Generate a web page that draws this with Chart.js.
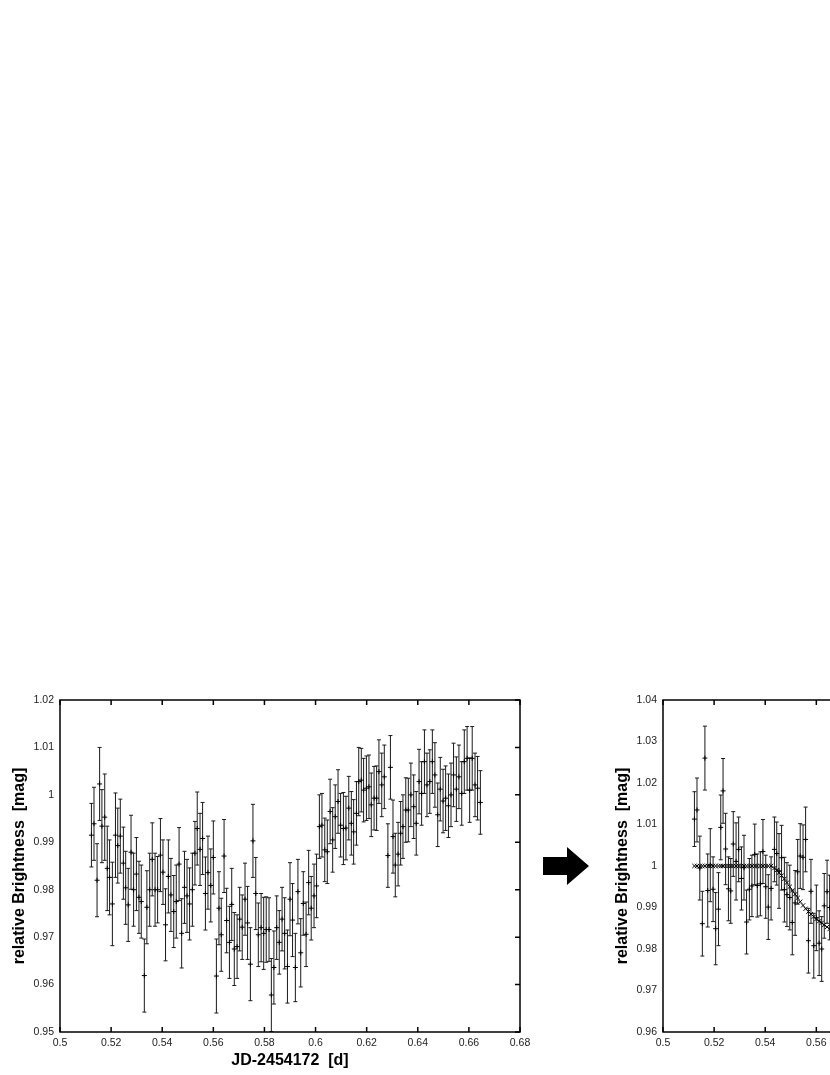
<!DOCTYPE html>
<html>
<head>
<meta charset="utf-8">
<script src="https://cdn.jsdelivr.net/npm/chart.js@4.4.1/dist/chart.umd.min.js"></script>
<style>
html, body { margin: 0; padding: 0; background: #fff; }
body { width: 830px; height: 1075px; overflow: hidden; position: relative; }
#left { position: absolute; left: 0; top: 690px; }
#right { position: absolute; left: 603px; top: 690px; }
#arrow { position: absolute; left: 540px; top: 844px; }
</style>
</head>
<body>
<canvas id="left" width="530" height="385"></canvas>
<canvas id="right" width="530" height="385"></canvas>
<svg id="arrow" width="52" height="44"><polygon points="3,13 27,13 27,3 49,22 27,41 27,31 3,31" fill="#000"/></svg>
<script>
// ticks
const xTicks = [0.5, 0.52, 0.54, 0.56, 0.58, 0.6, 0.62, 0.64, 0.66, 0.68];
const xTickLabels = ['0.5', '0.52', '0.54', '0.56', '0.58', '0.6', '0.62', '0.64', '0.66', '0.68'];
const yTicksLeft = [0.95, 0.96, 0.97, 0.98, 0.99, 1.0, 1.01, 1.02];
const yTickLabelsLeft = ['0.95', '0.96', '0.97', '0.98', '0.99', '1', '1.01', '1.02'];
const yTicksRight = [0.96, 0.97, 0.98, 0.99, 1.0, 1.01, 1.02, 1.03, 1.04];
const yTickLabelsRight = ['0.96', '0.97', '0.98', '0.99', '1', '1.01', '1.02', '1.03', '1.04'];

// left panel: raw light curve
const jdLeft = [
  0.5123, 0.5133, 0.5145, 0.5155, 0.5164, 0.5175, 0.5185, 0.5194, 0.5205, 0.5217,
  0.5226, 0.5236, 0.5248, 0.5257, 0.5267, 0.5278, 0.5288, 0.5299, 0.5309, 0.5318,
  0.5330, 0.5340, 0.5351, 0.5361, 0.5372, 0.5382, 0.5393, 0.5403, 0.5413, 0.5424,
  0.5434, 0.5445, 0.5455, 0.5466, 0.5476, 0.5487, 0.5497, 0.5507, 0.5518, 0.5528,
  0.5537, 0.5548, 0.5558, 0.5569, 0.5579, 0.5590, 0.5600, 0.5612, 0.5622,
  0.5631, 0.5642, 0.5652, 0.5663, 0.5672, 0.5682, 0.5693, 0.5703, 0.5713, 0.5724,
  0.5734, 0.5745, 0.5755, 0.5766, 0.5776, 0.5787, 0.5797, 0.5807, 0.5818, 0.5827,
  0.5837, 0.5848, 0.5858, 0.5869, 0.5879, 0.5890, 0.5900, 0.5910, 0.5921, 0.5931,
  0.5942, 0.5952, 0.5963, 0.5973, 0.5983, 0.5994, 0.6004, 0.6015, 0.6025, 0.6036,
  0.6046, 0.6057, 0.6067, 0.6077, 0.6088, 0.6098, 0.6109, 0.6119, 0.6130,
  0.6140, 0.6149, 0.6160, 0.6169, 0.6179, 0.6188, 0.6199, 0.6209, 0.6218, 0.6229,
  0.6239, 0.6248, 0.6259, 0.6269, 0.6283, 0.6293, 0.6303, 0.6312, 0.6323, 0.6333,
  0.6342, 0.6353, 0.6363, 0.6373, 0.6384, 0.6394, 0.6405, 0.6415, 0.6426, 0.6436,
  0.6447, 0.6457, 0.6467, 0.6478, 0.6488, 0.6499, 0.6509, 0.6520, 0.6530, 0.6540,
  0.6551, 0.6561, 0.6572, 0.6582, 0.6593, 0.6603, 0.6613, 0.6624, 0.6634, 0.6645
];
const magLeft = [
  0.9915, 0.9939, 0.9820, 1.0023, 0.9934, 0.9953, 0.9845, 0.9826, 0.9770, 0.9915,
  0.9893, 0.9913, 0.9856, 0.9804, 0.9768, 0.9879, 0.9800, 0.9833, 0.9784, 0.9775,
  0.9619, 0.9763, 0.9800, 0.9864, 0.9800, 0.9800, 0.9873, 0.9837, 0.9726, 0.9828,
  0.9789, 0.9754, 0.9775, 0.9854, 0.9708, 0.9805, 0.9787, 0.9770, 0.9800, 0.9877,
  0.9929, 0.9885, 0.9908, 0.9792, 0.9836, 0.9809, 0.9868, 0.9618, 0.9761,
  0.9705, 0.9871, 0.9735, 0.9689, 0.9769, 0.9675, 0.9680, 0.9738, 0.9721, 0.9780,
  0.9730, 0.9643, 0.9903, 0.9792, 0.9705, 0.9720, 0.9708, 0.9716, 0.9716, 0.9578,
  0.9636, 0.9720, 0.9689, 0.9738, 0.9708, 0.9638, 0.9780, 0.9736, 0.9636, 0.9796,
  0.9667, 0.9771, 0.9706, 0.9815, 0.9761, 0.9787, 0.9808, 0.9933, 0.9936, 0.9884,
  0.9880, 0.9965, 0.9905, 0.9954, 0.9986, 0.9936, 0.9929, 0.9930, 0.9972,
  0.9940, 0.9922, 0.9961, 1.0028, 1.0031, 1.0010, 1.0014, 1.0017, 0.9979, 0.9993,
  0.9993, 1.0049, 1.0021, 1.0038, 0.9872, 1.0058, 0.9912, 0.9852, 0.9875, 0.9919,
  0.9933, 0.9968, 0.9968, 1.0000, 0.9975, 0.9940, 1.0028, 1.0003, 1.0070, 1.0021,
  1.0028, 1.0070, 1.0042, 0.9958, 1.0012, 0.9987, 0.9993, 0.9977, 1.0000, 1.0042,
  1.0012, 1.0038, 1.0003, 1.0070, 1.0077, 1.0010, 1.0077, 1.0021, 1.0014, 0.9984
];
const errLeft = [
  0.0067, 0.0077, 0.0077, 0.0077, 0.0077, 0.0091, 0.0089, 0.0079, 0.0088, 0.0089,
  0.0079, 0.0078, 0.0076, 0.0077, 0.0077, 0.0078, 0.0077, 0.0077, 0.0076, 0.0077,
  0.0077, 0.0077, 0.0077, 0.0077, 0.0077, 0.0070, 0.0077, 0.0068, 0.0076, 0.0077,
  0.0077, 0.0076, 0.0077, 0.0077, 0.0073, 0.0076, 0.0077, 0.0076, 0.0077, 0.0067,
  0.0077, 0.0076, 0.0076, 0.0077, 0.0077, 0.0077, 0.0077, 0.0078, 0.0077,
  0.0077, 0.0077, 0.0068, 0.0076, 0.0076, 0.0077, 0.0067, 0.0067, 0.0068, 0.0076,
  0.0077, 0.0077, 0.0077, 0.0076, 0.0067, 0.0072, 0.0076, 0.0069, 0.0067, 0.0077,
  0.0077, 0.0067, 0.0067, 0.0067, 0.0075, 0.0077, 0.0077, 0.0077, 0.0072, 0.0068,
  0.0072, 0.0067, 0.0068, 0.0068, 0.0067, 0.0067, 0.0067, 0.0067, 0.0067, 0.0067,
  0.0067, 0.0068, 0.0068, 0.0067, 0.0067, 0.0067, 0.0076, 0.0067, 0.0067,
  0.0067, 0.0068, 0.0067, 0.0072, 0.0067, 0.0067, 0.0068, 0.0067, 0.0067, 0.0067,
  0.0068, 0.0067, 0.0067, 0.0067, 0.0067, 0.0067, 0.0077, 0.0067, 0.0067, 0.0067,
  0.0067, 0.0068, 0.0067, 0.0067, 0.0067, 0.0067, 0.0068, 0.0067, 0.0067, 0.0067,
  0.0067, 0.0067, 0.0068, 0.0067, 0.0067, 0.0067, 0.0068, 0.0067, 0.0067, 0.0067,
  0.0068, 0.0067, 0.0067, 0.0067, 0.0067, 0.0068, 0.0067, 0.0067, 0.0067, 0.0067
];

// right panel: detrended curve with transit model (cut at page edge)
const jdRight = [
  0.5123, 0.5133, 0.5144, 0.5154, 0.5164, 0.5175, 0.5185, 0.5196, 0.5206, 0.5217,
  0.5226, 0.5235, 0.5245, 0.5256, 0.5265, 0.5275, 0.5286, 0.5296, 0.5307, 0.5317,
  0.5327, 0.5338, 0.5348, 0.5359, 0.5369, 0.5381, 0.5391, 0.5402, 0.5412, 0.5423,
  0.5436, 0.5445, 0.5454, 0.5464, 0.5475, 0.5485, 0.5496, 0.5506, 0.5517, 0.5527,
  0.5537, 0.5548, 0.5558, 0.5569, 0.5579, 0.5590, 0.5600, 0.5611, 0.5621, 0.5631,
  0.5642, 0.5652
];
const magRight = [
  1.0113, 1.0135, 0.9995, 0.9861, 1.0260, 0.9941, 1.0002, 0.9944, 0.9849, 0.9896,
  1.0093, 1.0181, 1.0041, 0.9945, 0.9940, 1.0053, 1.0011, 1.0040, 0.9970, 0.9996,
  0.9865, 0.9944, 0.9952, 1.0028, 0.9953, 0.9957, 1.0035, 0.9950, 0.9901, 0.9946,
  1.0040, 1.0030, 0.9988, 1.0020, 0.9943, 0.9931, 0.9924, 0.9864, 0.9911, 0.9986,
  1.0024, 1.0021, 1.0064, 0.9820, 0.9939, 0.9808, 0.9875, 0.9814, 0.9800, 0.9904,
  0.9938, 0.9900
];
const errRight = [
  0.0066, 0.0077, 0.0077, 0.0078, 0.0077, 0.0088, 0.0088, 0.0078, 0.0087, 0.0088,
  0.0078, 0.0078, 0.0086, 0.0077, 0.0078, 0.0078, 0.0093, 0.0078, 0.0076, 0.0078,
  0.0077, 0.0074, 0.0074, 0.0073, 0.0076, 0.0077, 0.0077, 0.0076, 0.0078, 0.0076,
  0.0078, 0.0076, 0.0090, 0.0078, 0.0078, 0.0077, 0.0078, 0.0078, 0.0078, 0.0078,
  0.0078, 0.0078, 0.0078, 0.0078, 0.0077, 0.0078, 0.0079, 0.0078, 0.0078, 0.0078,
  0.0076, 0.0078
];
const modelRight = [
  1.0, 1.0, 1.0, 1.0, 1.0, 1.0, 1.0, 1.0, 1.0, 1.0,
  1.0, 1.0, 1.0, 1.0, 1.0, 1.0, 1.0, 1.0, 1.0, 1.0,
  1.0, 1.0, 1.0, 1.0, 1.0, 1.0, 1.0, 1.0, 1.0, 1.0,
  0.9995, 0.9990, 0.9984, 0.9977, 0.9969, 0.9960, 0.9950, 0.9941, 0.9932, 0.9923,
  0.9914, 0.9905, 0.9897, 0.9890, 0.9884, 0.9878, 0.9872, 0.9867, 0.9863, 0.9858,
  0.9853, 0.9848
];

const FONT = "'Liberation Sans', Arial, Helvetica, sans-serif";

// error bars with small caps, drawn through the chart scales
const errorBars = {
  id: 'errorBars',
  beforeDatasetsDraw(chart, args, opts) {
    const { ctx, chartArea, scales: { x, y } } = chart;
    const pts = chart.data.datasets[0].data;
    ctx.save();
    ctx.beginPath();
    ctx.rect(chartArea.left, chartArea.top, chartArea.right - chartArea.left, chartArea.bottom - chartArea.top);
    ctx.clip();
    ctx.strokeStyle = '#1a1a1a';
    ctx.lineWidth = 1;
    pts.forEach((p, i) => {
      const e = opts.errors[i];
      const px = x.getPixelForValue(p.x);
      const top = y.getPixelForValue(p.y + e);
      const bot = y.getPixelForValue(p.y - e);
      ctx.beginPath();
      ctx.moveTo(px, top); ctx.lineTo(px, bot);
      ctx.moveTo(px - 2, top); ctx.lineTo(px + 2, top);
      ctx.moveTo(px - 2, bot); ctx.lineTo(px + 2, bot);
      ctx.stroke();
    });
    ctx.restore();
  }
};

// box frame with inward ticks (bottom, top, right)
const frame = {
  id: 'frame',
  afterDraw(chart) {
    const { ctx, chartArea: a, scales: { x, y } } = chart;
    ctx.save();
    ctx.strokeStyle = '#000';
    ctx.lineWidth = 1.5;
    ctx.strokeRect(a.left, a.top, a.right - a.left, a.bottom - a.top);
    ctx.beginPath();
    x.ticks.forEach(t => {
      const px = x.getPixelForValue(t.value);
      ctx.moveTo(px, a.bottom); ctx.lineTo(px, a.bottom - 5);
      ctx.moveTo(px, a.top); ctx.lineTo(px, a.top + 5);
    });
    y.ticks.forEach(t => {
      const py = y.getPixelForValue(t.value);
      ctx.moveTo(a.right, py); ctx.lineTo(a.right - 5, py);
    });
    ctx.stroke();
    ctx.restore();
  }
};

function makeChart(id, xs, ys, errs, yTicks, yLabels, model) {
  const datasets = [{
    data: xs.map((v, i) => ({ x: v, y: ys[i] })),
    showLine: false,
    pointStyle: 'cross',
    pointRadius: 2.5,
    borderColor: '#000',
    borderWidth: 1
  }];
  if (model) {
    datasets.push({
      data: xs.map((v, i) => ({ x: v, y: model[i] })),
      showLine: false,
      pointStyle: 'crossRot',
      pointRadius: 3,
      borderColor: '#000',
      borderWidth: 1
    });
  }
  return new Chart(document.getElementById(id), {
    type: 'scatter',
    data: { datasets },
    plugins: [errorBars, frame],
    options: {
      responsive: false,
      animation: false,
      devicePixelRatio: 1,
      layout: { padding: { top: 10, right: 10, left: 0, bottom: 0 } },
      plugins: {
        legend: { display: false },
        tooltip: { enabled: false },
        errorBars: { errors: errs }
      },
      scales: {
        x: {
          type: 'linear',
          min: 0.5,
          max: 0.68,
          afterBuildTicks: s => { s.ticks = xTicks.map(v => ({ value: v })); },
          afterFit: s => { s.height = 43; s.paddingLeft = 0; s.paddingRight = 0; },
          grid: { display: false, drawTicks: false },
          border: { display: false },
          ticks: {
            callback: (v, i) => xTickLabels[i],
            font: { family: FONT, size: 10.5 },
            color: '#222',
            padding: 5,
            maxRotation: 0,
            autoSkip: false
          },
          title: {
            display: true,
            text: 'JD-2454172  [d]',
            font: { family: FONT, size: 16, weight: 'bold' },
            color: '#000',
            padding: { top: 0, bottom: 5 }
          }
        },
        y: {
          type: 'linear',
          min: yTicks[0],
          max: yTicks[yTicks.length - 1],
          afterBuildTicks: s => { s.ticks = yTicks.map(v => ({ value: v })); },
          afterFit: s => { s.width = 60; s.paddingTop = 0; s.paddingBottom = 0; },
          grid: { display: false, drawTicks: false },
          border: { display: false },
          ticks: {
            callback: (v, i) => yLabels[i],
            font: { family: FONT, size: 10.5 },
            color: '#222',
            padding: 6,
            autoSkip: false
          },
          title: {
            display: true,
            text: 'relative Brightness  [mag]',
            font: { family: FONT, size: 16, weight: 'bold' },
            color: '#000',
            padding: { top: 10, bottom: 0 }
          }
        }
      }
    }
  });
}

makeChart('left', jdLeft, magLeft, errLeft, yTicksLeft, yTickLabelsLeft, null);
makeChart('right', jdRight, magRight, errRight, yTicksRight, yTickLabelsRight, modelRight);
</script>
</body>
</html>
